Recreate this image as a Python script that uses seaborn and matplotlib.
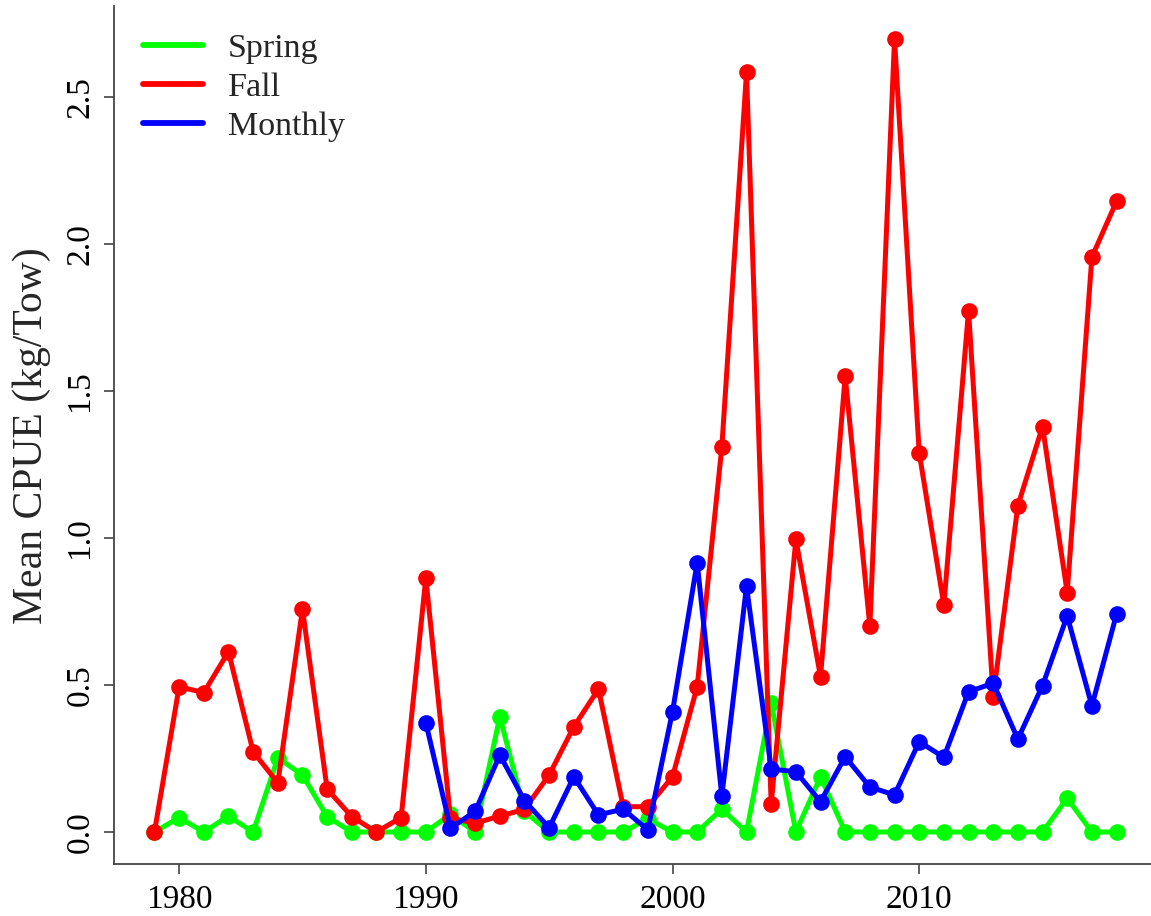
import seaborn as sns
import matplotlib.pyplot as plt
from matplotlib.lines import Line2D
import numpy as np
import pandas as pd

# values
years = list(range(1979, 2019))
spring = [0.0, 0.049, 0.0, 0.054, 0.0, 0.252, 0.194, 0.052, 0.0, 0.0, 0.0, 0.0,
          0.06, 0.0, 0.392, 0.07, 0.0, 0.0, 0.0, 0.0, 0.045, 0.0,
          0.0, 0.078, 0.0, 0.439, 0.0, 0.188, 0.0, 0.0, 0.0, 0.0,
          0.0, 0.0, 0.0, 0.0, 0.0, 0.115, 0.0, 0.0]
fall = [0.0, 0.494, 0.474, 0.613, 0.273, 0.167, 0.758, 0.146, 0.052, 0.0, 0.049, 0.864,
        0.047, 0.03, 0.054, 0.077, 0.194, 0.358, 0.486, 0.086, 0.086, 0.188,
        0.494, 1.31, 2.583, 0.095, 0.995, 0.528, 1.55, 0.70, 2.696, 1.29,
        0.772, 1.773, 0.46, 1.11, 1.379, 0.814, 1.955, 2.145]
monthly_years = list(range(1990, 2019))
monthly = [0.372, 0.013, 0.07, 0.262, 0.107, 0.014, 0.188, 0.058, 0.078, 0.007,
           0.409, 0.916, 0.122, 0.836, 0.214, 0.205, 0.103, 0.256, 0.153, 0.126,
           0.307, 0.254, 0.477, 0.506, 0.316, 0.498, 0.735, 0.429, 0.741]

series_names = ['Spring', 'Fall', 'Monthly']
colors = {'Spring': '#00ff00', 'Fall': '#ff0000', 'Monthly': '#0000ff'}

df = pd.concat([
    pd.DataFrame({'year': years, 'cpue': spring, 'series': 'Spring'}),
    pd.DataFrame({'year': years, 'cpue': fall, 'series': 'Fall'}),
    pd.DataFrame({'year': monthly_years, 'cpue': monthly, 'series': 'Monthly'}),
])

sns.set_style('white')
plt.rcParams['font.family'] = ['Liberation Serif', 'DejaVu Serif']

fig = plt.figure(figsize=(11.51, 9.16), dpi=100)
ax = fig.add_axes([114 / 1151, 0.0564, 1043 / 1151, 0.9367])

sns.lineplot(data=df, x='year', y='cpue', hue='series', hue_order=series_names,
             palette=colors, marker='o', markersize=12, markeredgewidth=0,
             linewidth=3.6, legend=False, ax=ax)

ax.set_xlim(1977.36, 2019.64)
ax.set_ylim(-0.11, 2.808)
ax.set_xticks([1980, 1990, 2000, 2010])
ax.set_yticks([0.0, 0.5, 1.0, 1.5, 2.0, 2.5])
ax.set_yticklabels(['0.0', '0.5', '1.0', '1.5', '2.0', '2.5'])
ax.set_xlabel('')
ax.set_ylabel('Mean CPUE (kg/Tow)', fontsize=30)
ax.yaxis.set_label_coords(-0.06, 0.5)

for s in ['top', 'right']:
    ax.spines[s].set_visible(False)
for s in ['left', 'bottom']:
    ax.spines[s].set_color('#444444')
    ax.spines[s].set_linewidth(1.3)

ax.tick_params(axis='both', direction='out', length=7.5, width=1.2, color='#444444',
               labelsize=24, labelcolor='black', bottom=True, left=True)
ax.tick_params(axis='x', pad=7)
ax.tick_params(axis='y', pad=6, labelrotation=90)
for lab in ax.get_yticklabels():
    lab.set_va('center')

handles = [Line2D([0], [0], color=colors[n], lw=4.2) for n in series_names]
ax.legend(handles, series_names, loc='upper left', frameon=False, fontsize=24.5,
          bbox_to_anchor=(143 / 1151, 1 - 33 / 916), bbox_transform=fig.transFigure,
          borderpad=0, borderaxespad=0, handlelength=1.75, handletextpad=0.75,
          labelspacing=0.24)

fig.savefig('out.png', dpi=100)
